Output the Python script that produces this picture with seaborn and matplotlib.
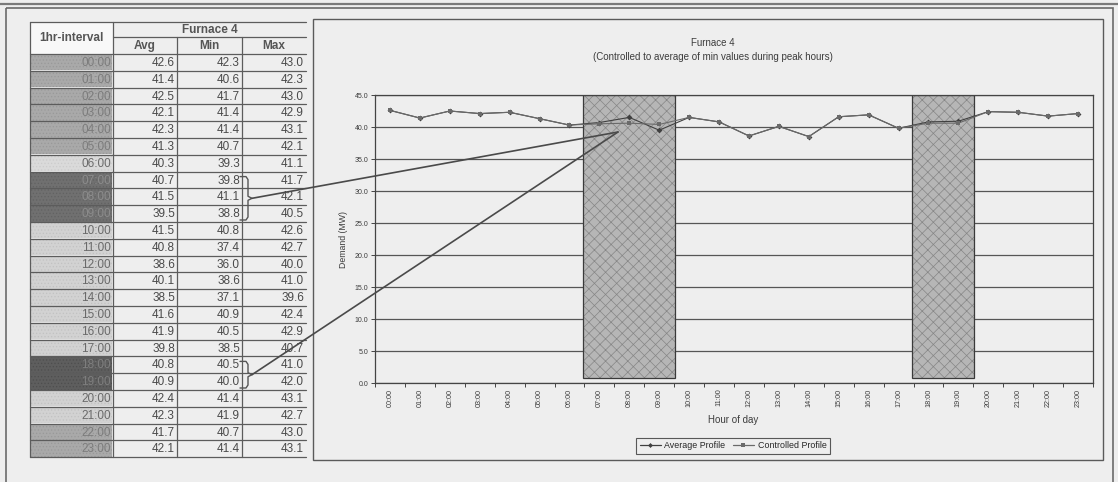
import numpy as np
import pandas as pd
import matplotlib
matplotlib.use("Agg")
import matplotlib.pyplot as plt
import seaborn as sns
from matplotlib.patches import Rectangle
from matplotlib.lines import Line2D

# ---- data -------------------------------------------------------------
hours = [f"{h:02d}:00" for h in range(24)]
avg_mw = [42.6, 41.4, 42.5, 42.1, 42.3, 41.3, 40.3, 40.7, 41.5, 39.5, 41.5, 40.8,
          38.6, 40.1, 38.5, 41.6, 41.9, 39.8, 40.8, 40.9, 42.4, 42.3, 41.7, 42.1]
min_mw = [42.3, 40.6, 41.7, 41.4, 41.4, 40.7, 39.3, 39.8, 41.1, 38.8, 40.8, 37.4,
          36.0, 38.6, 37.1, 40.9, 40.5, 38.5, 40.5, 40.0, 41.4, 41.9, 40.7, 41.4]
max_mw = [43.0, 42.3, 43.0, 42.9, 43.1, 42.1, 41.1, 41.7, 42.1, 40.5, 42.6, 42.7,
          40.0, 41.0, 39.6, 42.4, 42.9, 40.7, 41.0, 42.0, 43.1, 42.7, 43.0, 43.1]
controlled_mw = [42.6, 41.4, 42.5, 42.1, 42.3, 41.3, 40.3, 40.5, 40.6, 40.4, 41.5, 40.8,
                 38.6, 40.1, 38.5, 41.6, 41.9, 39.8, 40.6, 40.6, 42.4, 42.3, 41.7, 42.1]
peak_windows = [(7, 9), (18, 19)]
interval_band = ["mid"] * 6 + ["pale"] + ["dark"] * 3 + ["light"] * 8 + \
                ["darker"] * 2 + ["light"] * 2 + ["mid"] * 2

# ---- styling ----------------------------------------------------------
sns.set_theme(style="white")
plt.rcParams["font.family"] = ["Liberation Sans", "DejaVu Sans"]
plt.rcParams["hatch.linewidth"] = 0.5

BG = "#eeeeee"
INK = "#3c3c3c"
band_fill = {"mid": "#a9a9a9", "pale": "#dadada", "dark": "#707070",
             "light": "#d2d2d2", "darker": "#5e5e5e"}
band_dots = {"mid": "#999999", "pale": "#cccccc", "dark": "#626262",
             "light": "#c2c2c2", "darker": "#4e4e4e"}
band_text = {"mid": "#7c7c7c", "pale": "#6a6a6a", "dark": "#8c8c8c",
             "light": "#6a6a6a", "darker": "#7e7e7e"}

W, H = 1118, 482
fig = plt.figure(figsize=(W / 100, H / 100), dpi=100, facecolor=BG)

# background layer in pixel coordinates (frames + table)
bg = fig.add_axes([0, 0, 1, 1], zorder=0)
bg.set_xlim(0, W)
bg.set_ylim(H, 0)
bg.axis("off")

bg.plot([0, W], [4, 4], color="#7a7a7a", lw=1.6)
bg.add_patch(Rectangle((6, 8), 1107, 490, fill=False, ec="#6a6a6a", lw=1.2))
bg.add_patch(Rectangle((313, 19), 790, 441, fill=False, ec="#5a5a5a", lw=1.0))

# ---- table ------------------------------------------------------------
cols = [30, 113, 177, 242, 306]
top, mid, hdr = 22, 37, 54
rh = 16.8
line_c = "#5c5c5c"

bg.add_patch(Rectangle((cols[0], top), cols[1] - cols[0], hdr - top,
                       fc="#f8f8f8", ec="none"))
bg.text((cols[0] + cols[1]) / 2, (top + hdr) / 2, "1hr-interval", ha="center",
        va="center", fontsize=8.5, fontweight="bold", color="#555555")
bg.text((cols[1] + cols[4]) / 2, (top + mid) / 2 + 0.5, "Furnace 4", ha="center",
        va="center", fontsize=8.5, fontweight="bold", color="#555555")
for i, name in enumerate(["Avg", "Min", "Max"]):
    bg.text((cols[i + 1] + cols[i + 2]) / 2, (mid + hdr) / 2 + 0.5, name,
            ha="center", va="center", fontsize=8.5, fontweight="bold",
            color="#555555")

for r in range(24):
    y0 = hdr + r * rh
    band = interval_band[r]
    bg.add_patch(Rectangle((cols[0] + 1, y0 + 1), cols[1] - cols[0] - 2, rh - 1.5,
                           fc=band_fill[band], ec=band_dots[band], lw=0,
                           hatch="....."))
    bg.text(cols[1] - 2, y0 + rh / 2 + 0.5, hours[r], ha="right", va="center",
            fontsize=8.5, color=band_text[band])
    for c, vals in enumerate([avg_mw, min_mw, max_mw]):
        bg.text(cols[c + 2] - 2, y0 + rh / 2 + 0.5, f"{vals[r]:.1f}", ha="right",
                va="center", fontsize=8.5, color="#4a4a4a")

bottom = hdr + 24 * rh
bg.plot([cols[0], cols[4]], [top, top], color=line_c, lw=0.9)
bg.plot([cols[1], cols[4]], [mid, mid], color=line_c, lw=0.9)
for r in range(25):
    y = hdr + r * rh
    bg.plot([cols[0], cols[4]], [y, y], color=line_c, lw=0.9)
bg.plot([cols[0], cols[0]], [top, bottom], color=line_c, lw=0.9)
bg.plot([cols[1], cols[1]], [top, bottom], color=line_c, lw=0.9)
bg.plot([cols[2], cols[2]], [mid, bottom], color=line_c, lw=0.9)
bg.plot([cols[3], cols[3]], [mid, bottom], color=line_c, lw=0.9)

# braces next to the Min values of each peak window
brace_tips = []
for a, b in peak_windows:
    yt = hdr + a * rh + 5
    yb = hdr + (b + 1) * rh - 2
    ym = (yt + yb) / 2
    xs = [240, 246, 248, 248, 252, 248, 248, 246, 240]
    ys = [yt, yt, yt + 3, ym - 2, ym, ym + 2, yb - 3, yb, yb]
    bg.plot(xs, ys, color="#555555", lw=1.0)
    brace_tips.append((252, ym))

# ---- line chart -------------------------------------------------------
px0, px1, py0, py1 = 375, 1093, 95, 383
ax = fig.add_axes([px0 / W, 1 - py1 / H, (px1 - px0) / W, (py1 - py0) / H],
                  zorder=1)
ax.set_facecolor(BG)

df = pd.DataFrame({
    "pos": list(range(24)) * 2,
    "MW": avg_mw + controlled_mw,
    "series": ["Average Profile"] * 24 + ["Controlled Profile"] * 24,
})
series_color = {"Average Profile": "#404040", "Controlled Profile": "#6a6a6a"}
series_marker = {"Average Profile": "D", "Controlled Profile": "s"}
sns.lineplot(data=df, x="pos", y="MW", hue="series", style="series",
             palette=series_color, markers=series_marker, dashes=False,
             markersize=3, linewidth=0.8, markeredgewidth=0, ax=ax,
             legend=False, zorder=4)

for a, b in peak_windows:
    ax.add_patch(Rectangle((a - 0.55, 0.8), b - a + 1.08, 44.2, fc="#b6b6b6",
                           ec="#868686", lw=0, hatch="xxx", zorder=2))
    ax.add_patch(Rectangle((a - 0.55, 0.8), b - a + 1.08, 44.2, fill=False,
                           ec="#3a3a3a", lw=0.9, zorder=2.5))

ax.set_xlim(-0.5, 23.5)
ax.set_ylim(0, 45)
ax.set_yticks(np.arange(0, 46, 5))
ax.set_yticklabels([f"{v:.1f}" for v in np.arange(0, 46, 5)], fontsize=5,
                   color=INK)
ax.set_xticks(range(24))
ax.set_xticklabels(hours, rotation=90, fontsize=5.2, color=INK)
ax.set_xticks(np.arange(-0.5, 24, 1), minor=True)
ax.tick_params(axis="x", which="major", length=0, pad=4)
ax.tick_params(axis="x", which="minor", length=3, width=0.7, color="#444444",
               direction="out", bottom=True)
ax.tick_params(axis="y", length=3, width=0.7, color="#444444", direction="out",
               left=True, pad=2)
ax.yaxis.grid(True, color="#555555", lw=0.9)
ax.xaxis.grid(False)
ax.set_axisbelow(True)
for side in ["left", "bottom", "right", "top"]:
    ax.spines[side].set_visible(True)
    ax.spines[side].set_color("#444444")
    ax.spines[side].set_linewidth(0.9)
ax.set_xlabel("")
ax.set_ylabel("")

fig.text(713 / W, 1 - 43 / H, "Furnace 4", ha="center", va="center",
         fontsize=7, color=INK)
fig.text(713 / W, 1 - 57 / H,
         "(Controlled to average of min values during peak hours)",
         ha="center", va="center", fontsize=7, color=INK)
fig.text(343 / W, 1 - 239 / H, "Demand (MW)", rotation=90, ha="center",
         va="center", fontsize=6.3, color=INK)
fig.text(733 / W, 1 - 420 / H, "Hour of day", ha="center", va="center",
         fontsize=7, color=INK)

handles = [Line2D([], [], color=series_color[s], marker=series_marker[s],
                  markersize=2.5, lw=0.9, markeredgewidth=0)
           for s in ["Average Profile", "Controlled Profile"]]
leg = fig.legend(handles, ["Average Profile", "Controlled Profile"],
                 loc="center", bbox_to_anchor=(733 / W, 1 - 446 / H), ncol=2,
                 fontsize=6.4, frameon=True, fancybox=False, handlelength=2.4,
                 handletextpad=0.4, columnspacing=0.8, borderpad=0.4,
                 facecolor=BG)
leg.get_frame().set_edgecolor("#333333")
leg.get_frame().set_linewidth(0.8)

# ---- connectors from braces into the first peak block ------------------
ov = fig.add_axes([0, 0, 1, 1], zorder=5)
ov.set_xlim(0, W)
ov.set_ylim(H, 0)
ov.axis("off")
target = (618, 132)
for tx, ty in brace_tips:
    ov.plot([tx, target[0]], [ty, target[1]], color="#4a4a4a", lw=1.2)

fig.savefig("out.png", dpi=100, facecolor=BG)
